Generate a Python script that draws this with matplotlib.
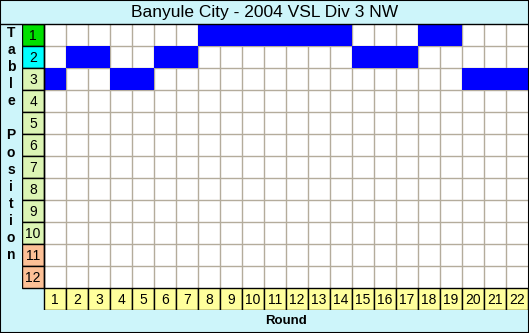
import numpy as np
import matplotlib.pyplot as plt
from matplotlib.lines import Line2D
from matplotlib.patches import Rectangle

# ---- data ----
title = "Banyule City - 2004 VSL Div 3 NW"
rounds = list(range(1, 23))
positions = [3, 2, 2, 3, 3, 2, 2, 1, 1, 1, 1, 1, 1, 1, 2, 2, 2, 1, 1, 3, 3, 3]
table_positions = list(range(1, 13))
position_colors = ['#00e000', '#00ffff'] + ['#dcf5b4'] * 8 + ['#fcc096'] * 2

bg = '#cdf5fa'
W, H = 529, 333

fig = plt.figure(figsize=(W / 100, H / 100), dpi=100)
fig.patch.set_facecolor(bg)
plt.rcParams['font.family'] = ['Liberation Sans', 'DejaVu Sans']

# axes covers label column + 22 rounds, 12 rows + round label row
ax = fig.add_axes([22 / W, 1 - 310 / H, 506 / W, 286 / H])
ax.set_xlim(-0.5, 22.5)
ax.set_ylim(13.5, 0.5)
ax.axis('off')

# white grid area
ax.add_patch(Rectangle((0.5, 0.5), 22, 12, facecolor='white', edgecolor='none', zorder=0))
ax.vlines(np.arange(1.5, 22.5), 0.5, 12.5, color='#b4ac9c', lw=1, zorder=1)
ax.hlines(np.arange(1.5, 12.5), 0.5, 22.5, color='#b4ac9c', lw=1, zorder=1)

# blue cells for table position each round
ax.bar(rounds, 1, bottom=np.array(positions) - 0.5, width=1, color='#0000ff',
       edgecolor='none', zorder=2)

# position label column
ax.bar([0] * 12, 1, bottom=np.array(table_positions) - 0.5, width=1,
       color=position_colors, edgecolor='black', lw=1, zorder=3)
for p in table_positions:
    ax.text(0, p + 0.03, str(p), ha='center', va='center', fontsize=10, zorder=4)

# round label row
ax.bar(rounds, 1, bottom=12.5, width=1, color='#ffff9c', edgecolor='black', lw=1, zorder=3)
for r in rounds:
    ax.text(r, 13.03, str(r), ha='center', va='center', fontsize=10, zorder=4)

ax.plot([0.5, 0.5], [0.5, 12.5], color='black', lw=1, zorder=5)

# title and axis labels
fig.text(265 / W, 1 - 12 / H, title, ha='center', va='center', fontsize=12.5)
fig.add_artist(Line2D([0, 1], [1 - 24 / H, 1 - 24 / H], color='black', lw=1))
fig.text(286 / W, 1 - 321 / H, "Round", ha='center', va='center', fontsize=9.5,
         fontweight='bold')
fig.text(11 / W, 1 - 144 / H, "T\na\nb\nl\ne\n\nP\no\ns\ni\nt\ni\no\nn",
         ha='center', va='center', fontsize=10, fontweight='bold', linespacing=1.28)

fig.add_artist(Rectangle((0, 0), 1, 1, transform=fig.transFigure, fill=False,
                         edgecolor='black', lw=1.5))

fig.savefig('out.png', dpi=100, facecolor=bg)
